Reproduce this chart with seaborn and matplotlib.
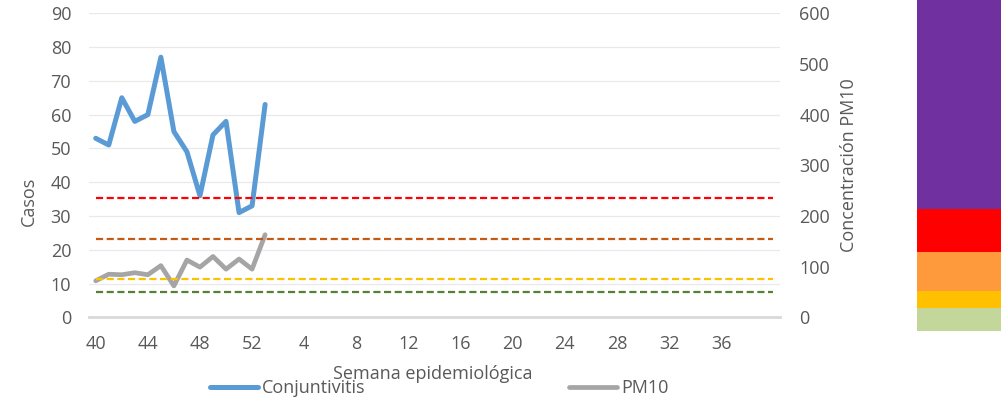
import numpy as np
import pandas as pd
import seaborn as sns
import matplotlib.pyplot as plt

# Semanas epidemiologicas (eje de categorias)
semanas = list(range(40, 53)) + list(range(1, 41))
conjuntivitis = [53, 51, 65, 58, 60, 77, 55, 49, 36, 54, 58, 31, 33, 63]
pm10 = [72, 85, 84, 88, 84, 102, 62, 113, 99, 120, 95, 115, 95, 163]

# Umbrales PM10 (lineas punteadas)
umbral_valores = [235, 155, 75, 50]
umbral_colores = ['#FF0000', '#C55A11', '#FFC000', '#548235']

# Escala de colores a la derecha (limites en unidades de PM10)
escala_limites = [-26, 18, 53, 129, 214, 628]
escala_colores = ['#C4D79B', '#FFC000', '#FF9A3C', '#FF0000', '#7030A0']

sns.set_theme(style="white")
plt.rcParams['font.family'] = ['Open Sans', 'DejaVu Sans']
gris_texto = '#595959'
fs = 13

idx = np.arange(len(semanas))
df_casos = pd.DataFrame({'idx': idx[:len(conjuntivitis)], 'casos': conjuntivitis})
df_pm = pd.DataFrame({'idx': idx[:len(pm10)], 'pm10': pm10})

fig = plt.figure(figsize=(10.01, 4.01), dpi=100)
W, H = 1001, 401
ax = fig.add_axes([89.2 / W, (H - 317.3) / H, 690.6 / W, 304 / H])

sns.lineplot(data=df_casos, x='idx', y='casos', ax=ax, color='#5B9BD5', linewidth=3.6,
             label='Conjuntivitis', legend=False)
ax.set_xlim(-0.5, len(semanas) - 0.5)
ax.set_ylim(0, 90)
ax.set_yticks(range(0, 91, 10))
ax.grid(axis='y', color='#E9E9E9', linewidth=0.9)
ax.set_axisbelow(True)
tick_pos = idx[:49:4]
ax.set_xticks(tick_pos)
ax.set_xticklabels([str(semanas[i]) for i in tick_pos])
ax.set_xlabel('')
ax.set_ylabel('')
for s in ['top', 'right', 'left']:
    ax.spines[s].set_visible(False)
ax.spines['bottom'].set_color('#D9D9D9')
ax.spines['bottom'].set_linewidth(2)
ax.tick_params(axis='both', length=0, labelsize=fs, labelcolor=gris_texto)
ax.tick_params(axis='y', pad=13)
ax.tick_params(axis='x', pad=12.5)

ax2 = ax.twinx()
sns.lineplot(data=df_pm, x='idx', y='pm10', ax=ax2, color='#A5A5A5', linewidth=3.4,
             label='PM10', legend=False)
for v, c in zip(umbral_valores, umbral_colores):
    df_u = pd.DataFrame({'idx': idx, 'v': [v] * len(idx)})
    sns.lineplot(data=df_u, x='idx', y='v', ax=ax2, color=c, linewidth=1.6, legend=False)
    ax2.lines[-1].set_dashes((3.2, 1.6))
ax2.set_ylim(0, 600)
ax2.set_yticks(range(0, 601, 100))
ax2.set_ylabel('')
for s in ax2.spines.values():
    s.set_visible(False)
ax2.tick_params(axis='y', length=0, labelsize=fs, labelcolor=gris_texto, pad=14)

fig.text(29 / W, 1 - 201 / H, 'Casos', rotation=90, ha='center', va='center',
         fontsize=fs, color=gris_texto)
fig.text(849.5 / W, 1 - 165.5 / H, 'Concentración PM10', rotation=90, ha='center',
         va='center', fontsize=fs, color=gris_texto)
fig.text(433 / W, 1 - 374 / H, 'Semana epidemiológica', ha='center', va='center',
         fontsize=fs, color=gris_texto)

h1 = ax.lines[0]
h2 = ax2.lines[0]
leg = fig.legend([h1, h2], ['Conjuntivitis', 'PM10'], loc='center left',
                 bbox_to_anchor=(210 / W, 1 - 388 / H), ncol=2, frameon=False,
                 fontsize=fs, handlelength=2.65, handletextpad=0.22, columnspacing=11.3,
                 borderpad=0, borderaxespad=0)
for t in leg.get_texts():
    t.set_color(gris_texto)

# Escala de colores
ax3 = fig.add_axes([917 / W, (H - 330.7) / H, 84 / W, 330.7 / H])
for lo, hi, c in zip(escala_limites[:-1], escala_limites[1:], escala_colores):
    ax3.bar(0, hi - lo, bottom=lo, width=1, color=c, linewidth=0)
ax3.set_xlim(-0.5, 0.5)
ax3.set_ylim(escala_limites[0], escala_limites[-1])
ax3.axis('off')

fig.savefig('out.png', dpi=100)
